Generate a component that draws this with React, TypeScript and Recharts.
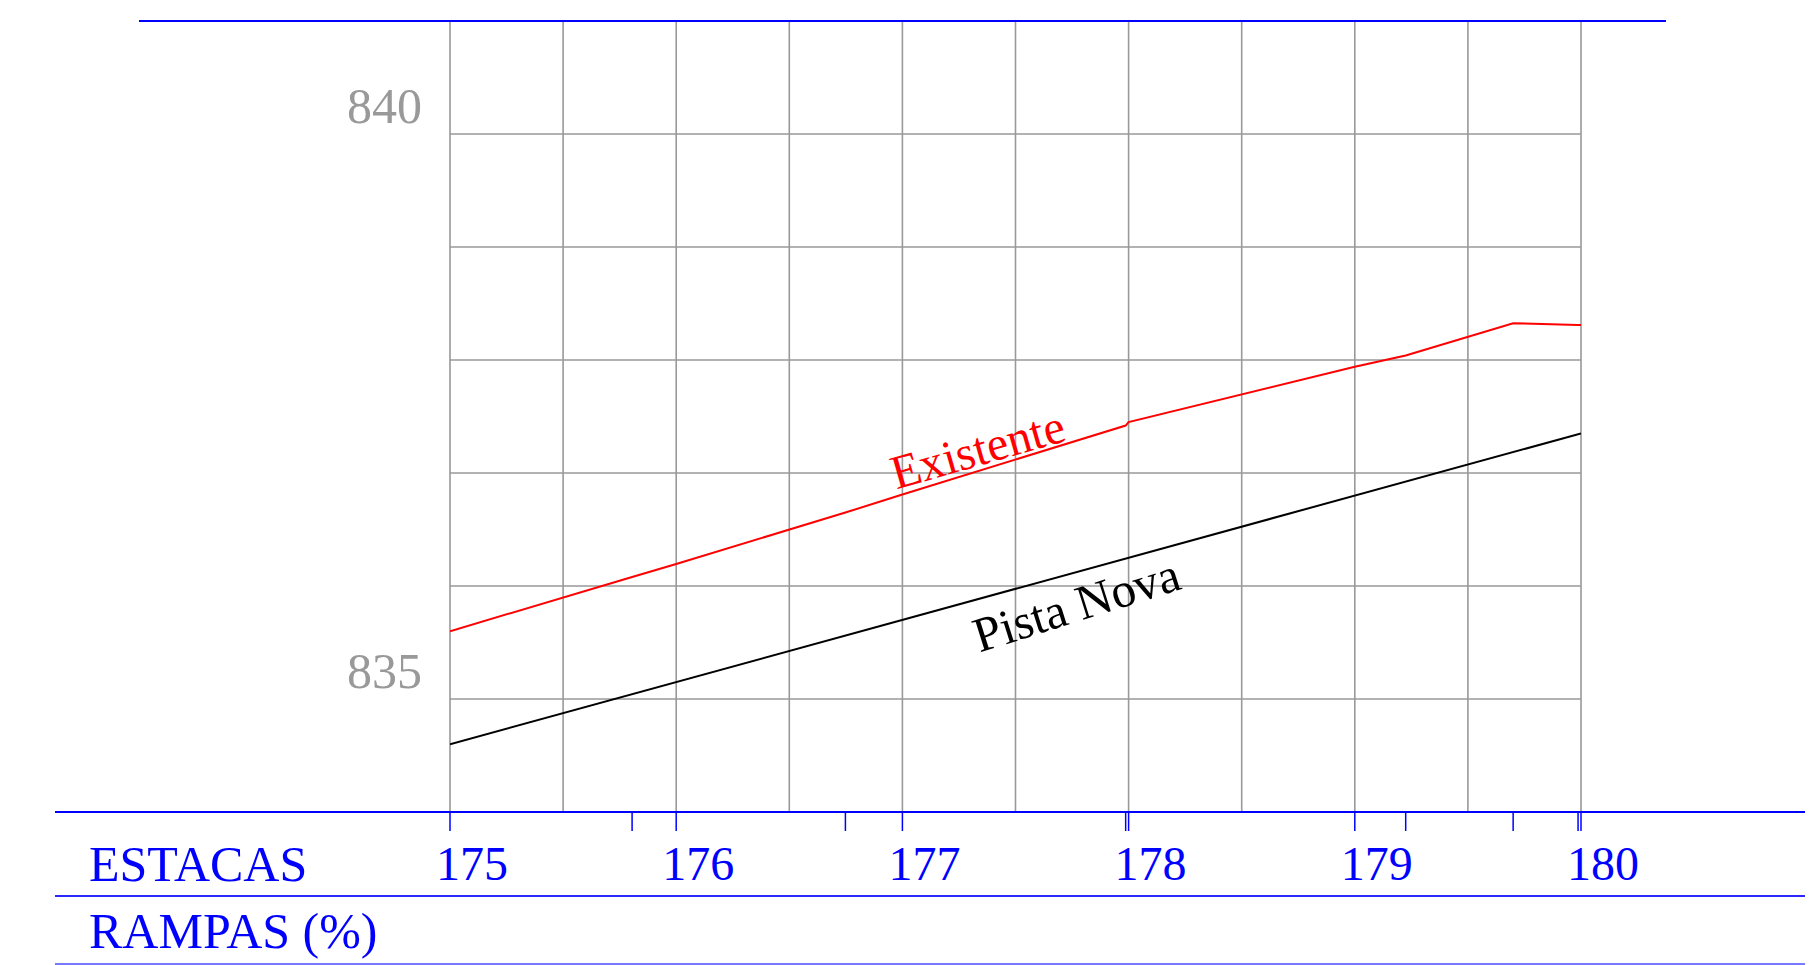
import React from 'react'
import { LineChart, Line, XAxis, YAxis, CartesianGrid, ReferenceDot } from 'recharts'

// profile points (estacas) of the existing ground and their elevations
const stations = [175, 175.805, 176, 176.748, 177, 177.987, 178, 179, 179.225, 179.7, 179.987, 180]
const existente = [835.6, 836.08, 836.195, 836.65, 836.81, 837.42, 837.45, 837.94, 838.04, 838.325, 838.31, 838.31]

const novaStations = [175, 180]
const pistaNova = [834.6, 837.35]

const gridStations = [175, 175.5, 176, 176.5, 177, 177.5, 178, 178.5, 179, 179.5, 180]
const stationLabels = [175, 176, 177, 178, 179, 180]
const elevationTicks = [834, 835, 836, 837, 838, 839, 840, 841]
const elevationLabels = [835, 840]

const existenteData = stations.map((s, i) => ({ st: s, z: existente[i] }))
const novaData = novaStations.map((s, i) => ({ st: s, z: pistaNova[i] }))

const FONT = '"Liberation Serif", "Times New Roman", serif'
const BLUE = '#0000ff'
const GRAY = '#999999'

const W = 1820
const H = 965

function ElevTick(props: any) {
  const v = props.payload?.value
  if (!elevationLabels.includes(v)) return <g />
  return (
    <text x={props.x - 28} y={props.y - 11} textAnchor="end" fill={GRAY} fontSize={50} fontFamily={FONT}>
      {v}
    </text>
  )
}

function StationTick(props: any) {
  const v = props.payload?.value
  if (!stationLabels.includes(v)) return <g />
  return (
    <text x={props.x + 22} y={props.y + 68} textAnchor="middle" fill={BLUE} fontSize={48} fontFamily={FONT}>
      {v}
    </text>
  )
}

function slantLabel(text: string, color: string, angle: number, size: number) {
  return (p: any) => (
    <text
      x={p.cx}
      y={p.cy}
      textAnchor="middle"
      dominantBaseline="central"
      fill={color}
      fontSize={size}
      fontFamily={FONT}
      transform={`rotate(${angle}, ${p.cx}, ${p.cy})`}
    >
      {text}
    </text>
  )
}

export default function App() {
  return (
    <div style={{ position: 'absolute', left: 0, top: 0, width: W, height: H, background: '#fff' }}>
      <LineChart width={W} height={H} margin={{ top: 21, right: 239, bottom: 151, left: 390 }}>
        <CartesianGrid stroke={GRAY} strokeWidth={1.6} />
        <XAxis
          xAxisId={0}
          dataKey="st"
          type="number"
          domain={[175, 180]}
          ticks={gridStations}
          interval={0}
          height={1}
          tickSize={0}
          tickMargin={0}
          axisLine={false}
          tickLine={false}
          tick={<StationTick />}
          allowDataOverflow
        />
        <XAxis
          xAxisId="marks"
          dataKey="st"
          type="number"
          domain={[175, 180]}
          ticks={stations}
          interval={0}
          height={1}
          tickSize={18}
          stroke={BLUE}
          axisLine={false}
          tickLine={{ stroke: BLUE, strokeWidth: 1.5 }}
          tick={() => <g />}
          allowDataOverflow
        />
        <YAxis
          type="number"
          domain={[834, 841]}
          ticks={elevationTicks}
          interval={0}
          width={60}
          tickSize={0}
          tickMargin={0}
          axisLine={false}
          tickLine={false}
          tick={<ElevTick />}
          allowDataOverflow
        />
        <Line
          data={existenteData}
          dataKey="z"
          type="linear"
          stroke="#ff0000"
          strokeWidth={2}
          dot={false}
          activeDot={false}
          isAnimationActive={false}
        />
        <Line
          data={novaData}
          dataKey="z"
          type="linear"
          stroke="#000000"
          strokeWidth={2}
          dot={false}
          activeDot={false}
          isAnimationActive={false}
        />
        <ReferenceDot x={177.332} y={837.212} r={0} ifOverflow="visible" shape={slantLabel('Existente', '#ff0000', -16, 48)} />
        <ReferenceDot x={177.769} y={835.834} r={0} ifOverflow="visible" shape={slantLabel('Pista Nova', '#000000', -17.5, 49)} />
      </LineChart>
      <svg width={W} height={H} style={{ position: 'absolute', left: 0, top: 0, pointerEvents: 'none' }}>
        <line x1={139} x2={1666} y1={21} y2={21} stroke={BLUE} strokeWidth={2.2} />
        <line x1={55} x2={1805} y1={812} y2={812} stroke={BLUE} strokeWidth={2.2} />
        <line x1={55} x2={1805} y1={896} y2={896} stroke="#2a2aff" strokeWidth={2} />
        <line x1={55} x2={1805} y1={964} y2={964} stroke="#4d4dff" strokeWidth={1.5} />
        <text x={89} y={881} fill={BLUE} fontSize={50} fontFamily={FONT}>ESTACAS</text>
        <text x={89} y={948} fill={BLUE} fontSize={50} fontFamily={FONT}>RAMPAS (%)</text>
      </svg>
    </div>
  )
}
